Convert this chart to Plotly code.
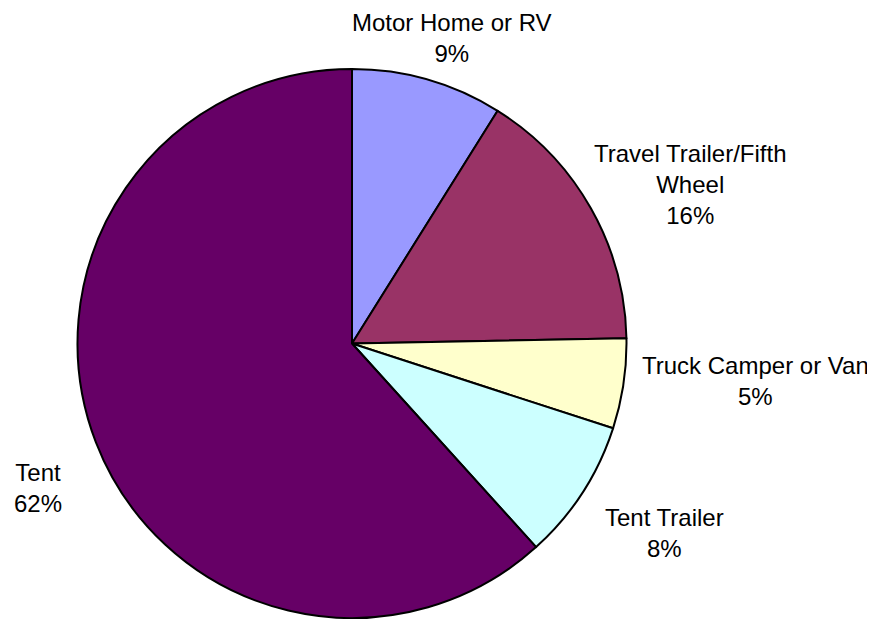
import plotly.graph_objects as go

labels = ["Motor Home or RV", "Travel Trailer/Fifth<br>Wheel", "Truck Camper or Van", "Tent Trailer", "Tent"]
values = [8.9, 15.8, 5.3, 8.3, 61.7]
colors = ["#9999FF", "#993366", "#FFFFCC", "#CCFFFF", "#660066"]

W, H = 875, 619
OFF = 8  # page body margin offset
# label centres in pixels (page coordinates); None -> anchored at top edge
label_pos = [(452, None), (690, 184), (755, 381), (664, 533), (38, 488)]

fig = go.Figure(go.Pie(
    labels=labels, values=values, sort=False, direction="clockwise", rotation=0,
    marker=dict(colors=colors, line=dict(color="black", width=2)),
    textinfo="none", hoverinfo="label+percent", showlegend=False,
    domain=dict(x=[(77-OFF)/W, (627-OFF)/W], y=[1-(618-OFF)/H, 1-(69-OFF)/H]),
))

total = sum(values)
for lab, v, (px, py) in zip(labels, values, label_pos):
    if py is None:
        y, ya = 1.0, "top"
    else:
        y, ya = 1-(py-OFF)/H, "middle"
    fig.add_annotation(
        x=(px-OFF)/W, y=y, xref="paper", yref="paper",
        text=f"{lab}<br>{v/total:.0%}", showarrow=False,
        xanchor="center", yanchor=ya, align="center", borderpad=0,
        font=dict(family="Liberation Sans, Arial, sans-serif", size=24, color="black"),
    )

fig.update_layout(width=W, height=H, margin=dict(l=0, r=0, t=0, b=0),
                  paper_bgcolor="white", plot_bgcolor="white")
fig.write_html("out.html")
